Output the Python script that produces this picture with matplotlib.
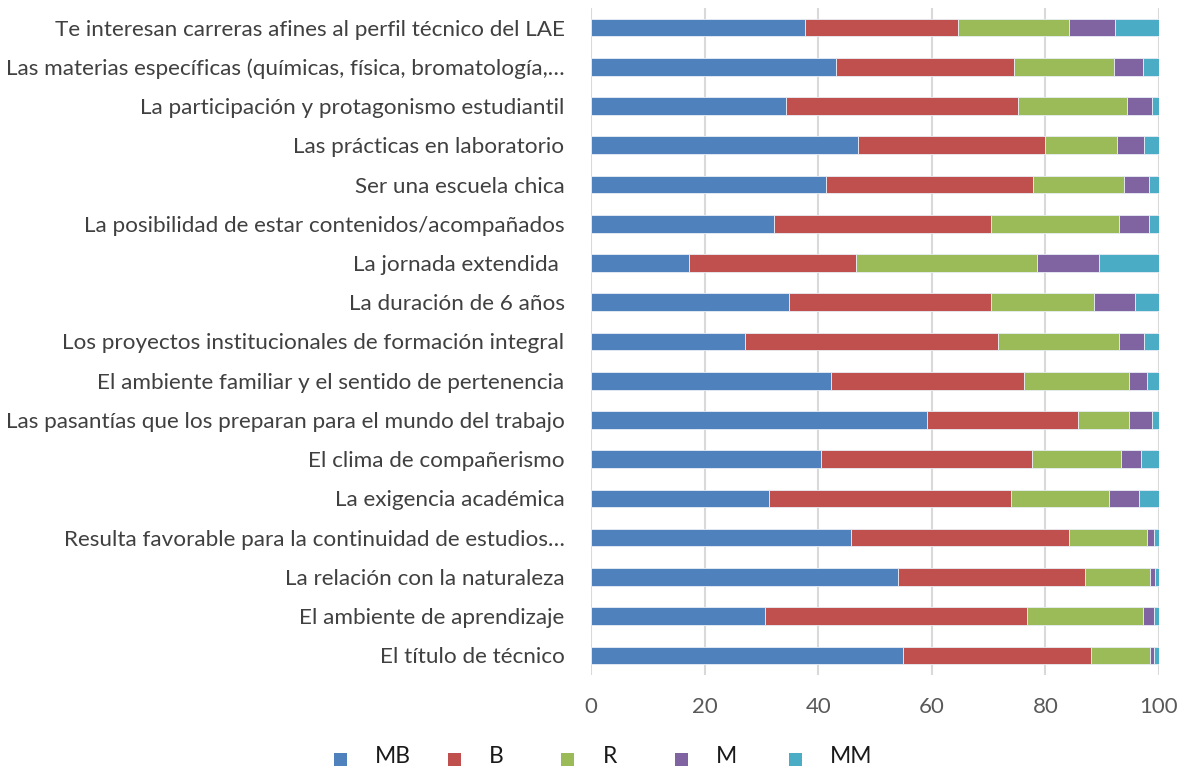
import matplotlib.pyplot as plt
import numpy as np
from matplotlib.patches import Rectangle

plt.rcParams["font.family"] = ["Lato", "DejaVu Sans"]

categories = [
    "Te interesan carreras afines al perfil técnico del LAE",
    "Las materias específicas (químicas, física, bromatología,…",
    "La participación y protagonismo estudiantil",
    "Las prácticas en laboratorio",
    "Ser una escuela chica",
    "La posibilidad de estar contenidos/acompañados",
    "La jornada extendida ",
    "La duración de 6 años",
    "Los proyectos institucionales de formación integral",
    "El ambiente familiar y el sentido de pertenencia",
    "Las pasantías que los preparan para el mundo del trabajo",
    "El clima de compañerismo",
    "La exigencia académica",
    "Resulta favorable para la continuidad de estudios…",
    "La relación con la naturaleza",
    "El ambiente de aprendizaje",
    "El título de técnico",
]

mb = [37.7, 43.1, 34.4, 47.0, 41.4, 32.3, 17.3, 34.8, 27.2, 42.2, 59.2, 40.5, 31.4, 45.7, 54.1, 30.6, 54.9]
b = [26.9, 31.4, 40.7, 32.9, 36.5, 38.2, 29.4, 35.7, 44.4, 34.0, 26.6, 37.1, 42.5, 38.4, 32.9, 46.2, 33.1]
r = [19.6, 17.6, 19.3, 12.7, 16.0, 22.5, 31.8, 18.1, 21.4, 18.5, 8.9, 15.7, 17.3, 13.7, 11.5, 20.4, 10.5]
m = [8.1, 5.1, 4.3, 4.8, 4.4, 5.3, 10.9, 7.1, 4.4, 3.2, 4.1, 3.6, 5.3, 1.3, 0.8, 1.9, 0.6]
mm = [7.7, 2.8, 1.3, 2.6, 1.7, 1.7, 10.6, 4.3, 2.6, 2.1, 1.2, 3.1, 3.5, 0.9, 0.7, 0.9, 0.9]

series_names = ["MB", "B", "R", "M", "MM"]
colors = ["#4F81BD", "#C0504D", "#9BBB59", "#8064A2", "#4BACC6"]

W, H = 1181, 767
fig = plt.figure(figsize=(W / 100, H / 100), dpi=100)
ax = fig.add_axes([591 / W, 0.12, 568 / W, 0.8696])

y = np.arange(len(categories))
left = np.zeros(len(categories))
for name, vals, col in zip(series_names, [mb, b, r, m, mm], colors):
    vals = np.array(vals)
    ax.barh(y, vals, left=left, height=0.45, color=col, edgecolor="#e8eef6", linewidth=0.6, label=name, zorder=3)
    left += vals

ax.set_xlim(0, 100)
ax.set_ylim(len(categories) - 0.5, -0.5)
ax.set_yticks(y)
ax.set_yticklabels(categories, fontsize=16.2, color="#404040")
ax.set_xticks(np.arange(0, 101, 20))
ax.tick_params(axis="x", labelsize=16, labelcolor="#595959", length=0, pad=16)
ax.tick_params(axis="y", length=0, pad=19)
ax.grid(axis="x", color="#d9d9d9", linewidth=1.5, zorder=0)
for s in ax.spines.values():
    s.set_visible(False)

# Excel-style legend: equally spaced entries along the bottom edge
for i, (name, col) in enumerate(zip(series_names, colors)):
    x0 = 334 + i * 113.7
    fig.patches.append(Rectangle((x0 / W, 1.5 / H), 13 / W, 13 / H, transform=fig.transFigure,
                                 facecolor=col, edgecolor="none"))
    fig.text((x0 + 41) / W, 4 / H, name, fontsize=16.5, color="#1a1a1a", va="baseline", ha="left")

fig.savefig("out.png", dpi=100)
